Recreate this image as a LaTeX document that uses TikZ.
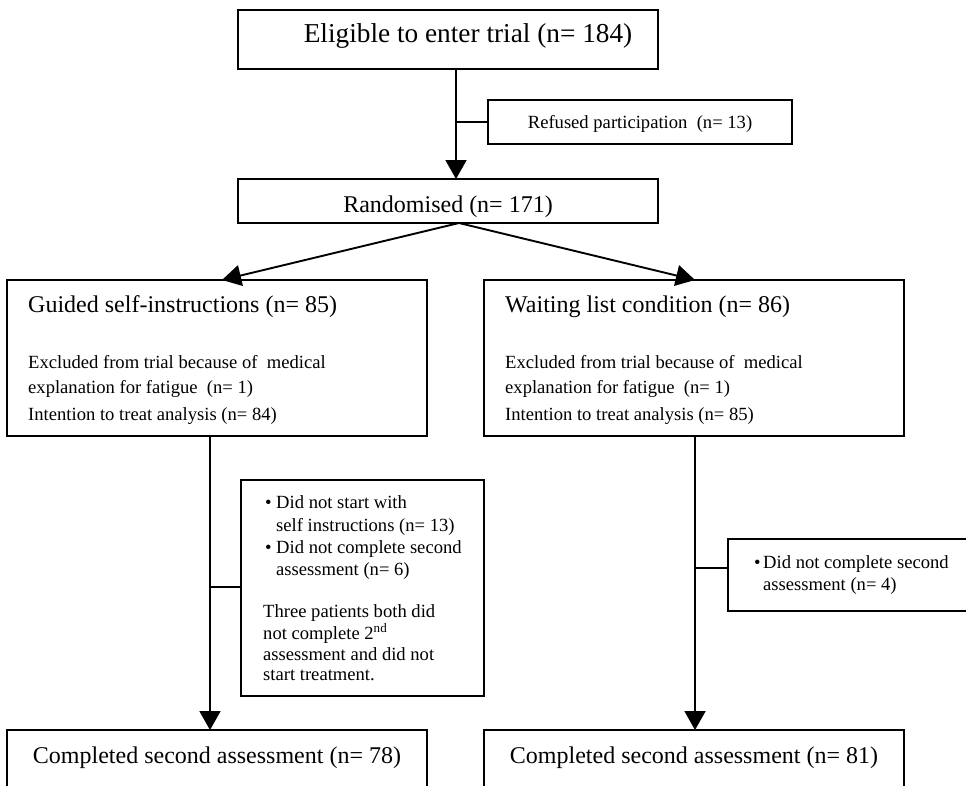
\documentclass[tikz,border=0pt]{standalone}
\usepackage{fontspec}
\setmainfont{Liberation Serif}
\usetikzlibrary{arrows.meta}
\begin{document}
\begin{tikzpicture}[x=1pt,y=-1pt,
  box/.style={draw, line width=1.9pt, rectangle, anchor=north west, inner sep=0pt, outer sep=0pt},
  big/.style={font=\fontsize{24}{26}\selectfont, inner sep=0pt, anchor=base},
  huge/.style={font=\fontsize{27.3}{29}\selectfont, inner sep=0pt, anchor=base},
  bigl/.style={big, anchor=base west},
  sm/.style={font=\fontsize{18.6}{20}\selectfont, inner sep=0pt, anchor=base west},
  smc/.style={sm, anchor=base},
  conn/.style={line width=1.9pt},
  arr/.style={conn, -{Triangle[length=19pt,width=21pt]}}
]
\useasboundingbox (0,0) rectangle (966,785);
\clip (0,0) rectangle (966,785);

% boxes
\node[box, minimum width=420pt, minimum height=59pt] (elig) at (238,10) {};
\node[box, minimum width=304pt, minimum height=44pt] (refused) at (488,100) {};
\node[box, minimum width=420pt, minimum height=44pt] (rand) at (238,179) {};
\node[box, minimum width=420pt, minimum height=156pt] (guided) at (7,280) {};
\node[box, minimum width=420pt, minimum height=156pt] (waiting) at (484,280) {};
\node[box, minimum width=243pt, minimum height=216pt] (excl1) at (241,480) {};
\node[box, minimum width=300pt, minimum height=72pt] (excl2) at (728,539) {};
\node[box, minimum width=420pt, minimum height=100pt] (comp1) at (7,730) {};
\node[box, minimum width=420pt, minimum height=100pt] (comp2) at (484,730) {};

% texts
\node[huge] (tElig) at (468,42) {Eligible to enter trial (n= 184)};
\node[smc] (tRef) at (640,128) {Refused participation\ \ (n= 13)};
\node[big] (tRand) at (448,212) {Randomised (n= 171)};

\node[bigl] (tG0) at (28,312) {Guided self-instructions (n= 85)};
\node[sm] (tG1) at (28,368) {Excluded from trial because of\ \ medical};
\node[sm] (tG2) at (28,393) {explanation for fatigue\ \ (n= 1)};
\node[sm] (tG3) at (28,420) {Intention to treat analysis (n= 84)};

\node[bigl] (tW0) at (505,312) {Waiting list condition (n= 86)};
\node[sm] (tW1) at (505,368) {Excluded from trial because of\ \ medical};
\node[sm] (tW2) at (505,393) {explanation for fatigue\ \ (n= 1)};
\node[sm] (tW3) at (505,420) {Intention to treat analysis (n= 85)};

\node[sm] (b1) at (265,508) {•};
\node[sm] (tE1) at (276,508) {Did not start with};
\node[sm] (tE2) at (276,531) {self instructions (n= 13)};
\node[sm] (b2) at (265,553) {•};
\node[sm] (tE3) at (276,553) {Did not complete second};
\node[sm] (tE4) at (276,575) {assessment (n= 6)};
\node[sm] (tE5) at (263,617) {Three patients both did};
\node[sm] (tE6) at (263,639) {not complete 2\textsuperscript{nd}};
\node[sm] (tE7) at (263,660) {assessment and did not};
\node[sm] (tE8) at (263,680) {start treatment.};

\node[sm] (b3) at (754,568) {•};
\node[sm] (tX1) at (763,568) {Did not complete second};
\node[sm] (tX2) at (763,590) {assessment (n= 4)};

\node[big] (tC1) at (217,763) {Completed second assessment (n= 78)};
\node[big] (tC2) at (694,763) {Completed second assessment (n= 81)};

% connectors
\draw[arr] ([xshift=8pt]elig.south) -- ([xshift=8pt]rand.north);
\coordinate (j1) at (456,122);
\draw[conn] (j1) -- (j1 -| refused.west);
\draw[arr] ([xshift=11pt]rand.south) -- ([xshift=5pt]guided.north);
\draw[arr] ([xshift=11pt]rand.south) -- ([xshift=1pt]waiting.north);
\draw[arr] ([xshift=-7pt]guided.south) -- ([xshift=-7pt]comp1.north);
\draw[arr] ([xshift=1pt]waiting.south) -- ([xshift=1pt]comp2.north);
\coordinate (j2) at (210,587);
\draw[conn] (j2) -- (j2 -| excl1.west);
\coordinate (j3) at (695,568);
\draw[conn] (j3) -- (j3 -| excl2.west);
\end{tikzpicture}
\end{document}
